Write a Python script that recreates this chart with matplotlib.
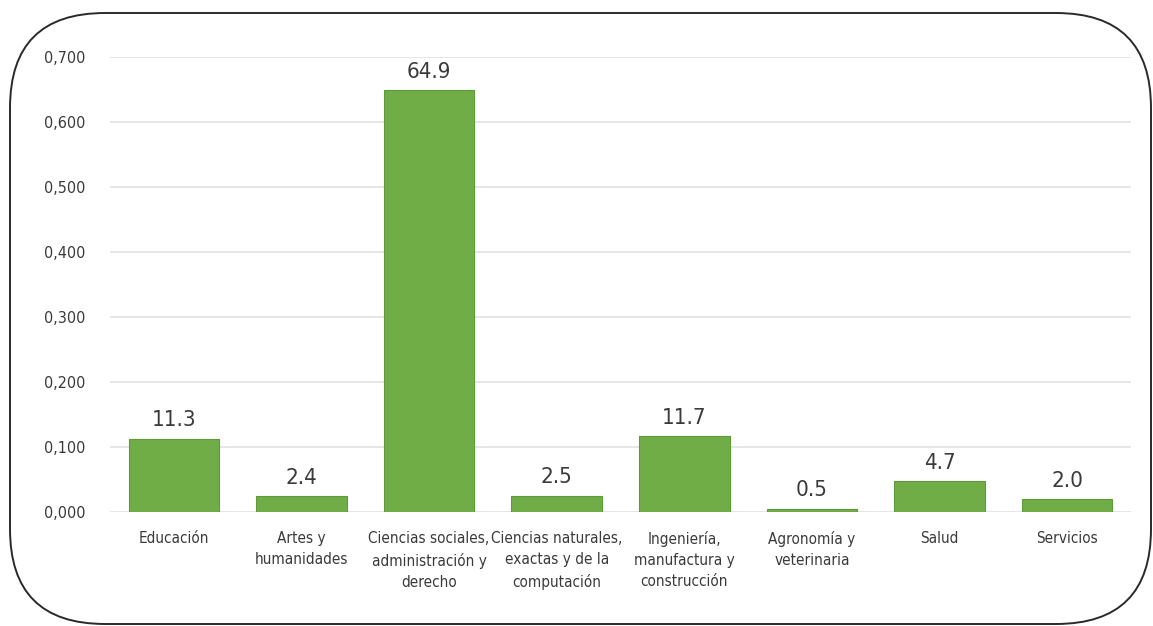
import matplotlib
matplotlib.use("Agg")
import matplotlib.pyplot as plt
from matplotlib.patches import FancyBboxPatch
from matplotlib.transforms import IdentityTransform
from matplotlib.ticker import FuncFormatter

categories = ["Educación", "Artes y\nhumanidades",
              "Ciencias sociales,\nadministración y\nderecho",
              "Ciencias naturales,\nexactas y de la\ncomputación",
              "Ingeniería,\nmanufactura y\nconstrucción",
              "Agronomía y\nveterinaria", "Salud", "Servicios"]
shares = [0.113, 0.024, 0.649, 0.025, 0.117, 0.005, 0.047, 0.020]
labels = ["11.3", "2.4", "64.9", "2.5", "11.7", "0.5", "4.7", "2.0"]
yticks = [0.0, 0.1, 0.2, 0.3, 0.4, 0.5, 0.6, 0.7]

plt.rcParams['font.family'] = ['DejaVu Sans']
plt.rcParams['font.stretch'] = 'condensed'
TXT = "#3a3a3a"
GREEN = "#70ad47"

fig = plt.figure(figsize=(11.53, 6.26), dpi=100)
ax = fig.add_axes([110/1153, 1 - 512/626, 1021/1153, 455/626])

x = range(len(categories))
ax.bar(x, shares, width=0.71, color=GREEN, edgecolor="#5e9a3a", linewidth=0.8, zorder=3)
for xi, v, lab in zip(x, shares, labels):
    ax.text(xi, v + 0.013, lab, ha="center", va="bottom", fontsize=16, color=TXT)

ax.set_xlim(-0.5, len(categories) - 0.5)
ax.set_ylim(0, 0.7)
ax.set_yticks(yticks)
ax.yaxis.set_major_formatter(FuncFormatter(lambda v, p: f"{v:.3f}".replace(".", ",")))
ax.set_xticks(list(x))
ax.set_xticklabels(categories, fontsize=11, color=TXT, linespacing=1.5, va="top")
ax.tick_params(axis="y", labelsize=11.5, colors=TXT, length=0, pad=18)
ax.tick_params(axis="x", length=0, pad=14)
ax.grid(axis="y", color="#e4e4e4", linewidth=1.3, zorder=0)
for s in ax.spines.values():
    s.set_visible(False)

# rounded frame around the whole chart (pixel coordinates)
frame = FancyBboxPatch((10, 2), 1141, 611, boxstyle="round,pad=0,rounding_size=95",
                       transform=IdentityTransform(), fill=False,
                       edgecolor="#2a2a2a", linewidth=1.4)
fig.patches.append(frame)

plt.savefig("out.png", dpi=100)
